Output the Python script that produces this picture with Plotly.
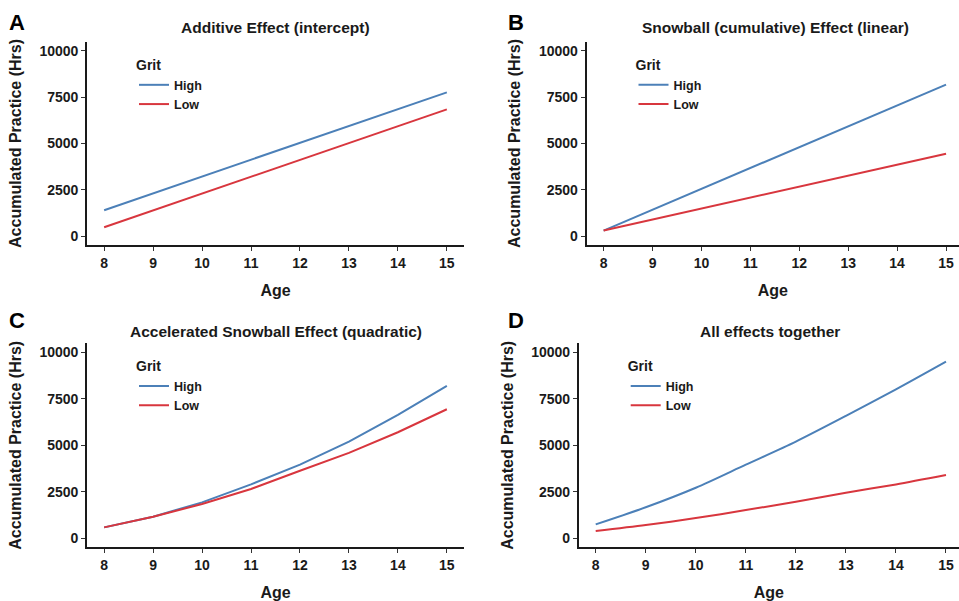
import plotly.graph_objects as go

# ---------------- data ----------------
ages = [8, 9, 10, 11, 12, 13, 14, 15]
groups = ["High", "Low"]

additive_high = [1400, 2310, 3215, 4125, 5035, 5945, 6850, 7760]
additive_low = [480, 1390, 2300, 3205, 4115, 5025, 5930, 6840]

snowball_high = [300, 1425, 2550, 3680, 4805, 5930, 7055, 8180]
snowball_low = [300, 895, 1485, 2080, 2670, 3265, 3860, 4450]

accel_high = [590, 1165, 1935, 2900, 3960, 5200, 6630, 8190]
accel_low = [590, 1165, 1845, 2650, 3635, 4590, 5700, 6935]

all_high = [750, 1670, 2720, 3960, 5200, 6580, 8010, 9500]
all_low = [395, 715, 1090, 1520, 1970, 2455, 2900, 3405]

panel_letters = ["A", "B", "C", "D"]
panel_titles = [
    "Additive Effect (intercept)",
    "Snowball (cumulative) Effect (linear)",
    "Accelerated Snowball Effect (quadratic)",
    "All effects together",
]
y_ticks = [0, 2500, 5000, 7500, 10000]
y_tick_labels = ["0", "2500", "5000", "7500", "10000"]
x_title = "Age"
y_title = "Accumulated Practice (Hrs)"
legend_title = "Grit"

series = [
    (additive_high, additive_low),
    (snowball_high, snowball_low),
    (accel_high, accel_low),
    (all_high, all_low),
]

# ---------------- style ----------------
W, H = 959, 601
FONT = "Liberation Sans, Arial, Helvetica, sans-serif"
INK = "#1a1a1a"
COLORS = {"High": "#4C80B8", "Low": "#D8363E"}
SHAPES = ["linear", "linear", "linear", "spline"]

# panel geometry in window pixels: (left, right), (top, bottom), x range
panels = [
    dict(px=(87, 464), py=(42, 245), xr=(7.65, 15.35)),
    dict(px=(586.5, 959), py=(42, 245), xr=(7.65, 15.265)),
    dict(px=(87, 464), py=(343.3, 547.3), xr=(7.65, 15.35)),
    dict(px=(578.7, 959), py=(343.3, 547.3), xr=(7.66, 15.26)),
]
title_cx = [275.5, 775, 275.5, 770]
title_cy = [28, 28, 331, 331]
letter_pos = [(17, 8), (516, 8), (17, 306), (516, 306)]  # top of letter box


def fx(px):
    return min(max(px / W, 0.0), 1.0)


def fy(py):
    return min(max(1 - py / H, 0.0), 1.0)


fig = go.Figure()

for i, (hi, lo) in enumerate(series):
    n = "" if i == 0 else str(i + 1)
    leg = "legend" + n
    for g, vals in zip(groups, (hi, lo)):
        fig.add_trace(go.Scatter(
            x=ages, y=vals, mode="lines", name=g,
            line=dict(color=COLORS[g], width=2, shape=SHAPES[i], smoothing=0.8),
            xaxis="x" + n, yaxis="y" + n, legend=leg,
        ))

layout = dict(
    width=W, height=H,
    margin=dict(l=0, r=0, t=0, b=0),
    paper_bgcolor="white", plot_bgcolor="white",
    font=dict(family=FONT, color=INK),
    annotations=[],
)

for i, p in enumerate(panels):
    n = "" if i == 0 else str(i + 1)
    xd = [fx(p["px"][0]), fx(p["px"][1])]
    yd = [fy(p["py"][1]), fy(p["py"][0])]
    layout["xaxis" + n] = dict(
        domain=xd, range=list(p["xr"]), anchor="y" + n,
        showline=True, linecolor=INK, linewidth=1.6,
        ticks="outside", ticklen=4, tickwidth=1, tickcolor="#333",
        showgrid=False, zeroline=False,
        tickmode="array", tickvals=ages, ticktext=[str(a) for a in ages],
        tickfont=dict(family=FONT, size=14, color=INK, weight="bold"),
        title=dict(text=x_title, standoff=15,
                   font=dict(family=FONT, size=16, color=INK, weight="bold")),
    )
    layout["yaxis" + n] = dict(
        domain=yd, range=[-480, 10480], anchor="x" + n,
        showline=True, linecolor=INK, linewidth=1.6,
        ticks="outside", ticklen=4, tickwidth=1, tickcolor="#333",
        showgrid=False, zeroline=False,
        tickmode="array", tickvals=y_ticks, ticktext=y_tick_labels,
        tickfont=dict(family=FONT, size=14, color=INK, weight="bold"),
        title=dict(text=y_title, standoff=14,
                   font=dict(family=FONT, size=16, color=INK, weight="bold")),
    )
    layout["legend" + n] = dict(
        x=fx(p["px"][0] + 47), y=fy(p["py"][0] + 10),
        xanchor="left", yanchor="top",
        bgcolor="rgba(0,0,0,0)", borderwidth=0,
        itemwidth=30, tracegroupgap=0,
        title=dict(text=legend_title,
                   font=dict(family=FONT, size=14, color=INK, weight="bold")),
        font=dict(family=FONT, size=12.5, color=INK, weight="bold"),
    )
    layout["annotations"].append(dict(
        text=panel_titles[i], x=fx(title_cx[i]), y=fy(title_cy[i]),
        xref="paper", yref="paper", xanchor="center", yanchor="middle",
        showarrow=False,
        font=dict(family=FONT, size=15.5, color=INK, weight="bold"),
    ))
    lx, ly = letter_pos[i]
    layout["annotations"].append(dict(
        text=panel_letters[i], x=fx(lx), y=fy(ly),
        xref="paper", yref="paper", xanchor="center", yanchor="top",
        showarrow=False,
        font=dict(family=FONT, size=22, color="#000", weight="bold"),
    ))

fig.update_layout(**layout)
fig.write_html(
    "out.html",
    config={"displayModeBar": False},
    post_script="document.body.style.margin='0';document.body.style.overflow='hidden';",
)
